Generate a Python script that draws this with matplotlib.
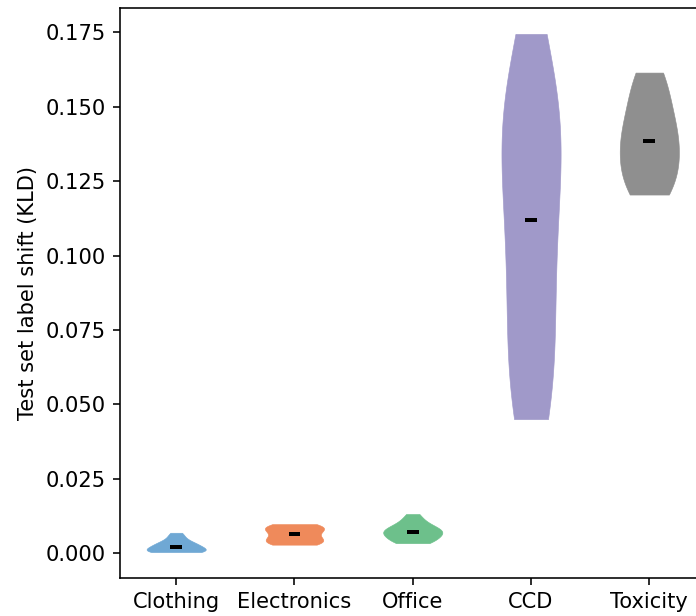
import numpy as np
import matplotlib
matplotlib.use('Agg')
import matplotlib.pyplot as plt

# label shift (KLD) per test split
datasets = ['Clothing', 'Electronics', 'Office', 'CCD', 'Toxicity']
clothing = [0.0003, 0.0003, 0.0004, 0.0005, 0.0006, 0.0008, 0.0010, 0.0013,
            0.0016, 0.0020, 0.0023, 0.0026, 0.0029, 0.0032, 0.0036, 0.0041,
            0.0049, 0.0059, 0.0068]
electronics = [0.0028, 0.0031, 0.0036, 0.0041, 0.0046, 0.0053, 0.0063,
               0.0073, 0.0079, 0.0084, 0.0088, 0.0093, 0.0097]
office = [0.0033, 0.0035, 0.0040, 0.0046, 0.0053, 0.0058, 0.0063, 0.0067,
          0.0071, 0.0074, 0.0078, 0.0082, 0.0087, 0.0094, 0.0103, 0.0115,
          0.0131]
ccd = [0.045, 0.047, 0.054, 0.062, 0.071, 0.080, 0.089, 0.097, 0.105,
       0.112, 0.122, 0.130, 0.136, 0.140, 0.144, 0.149, 0.156, 0.165, 0.1745]
toxicity = [0.1205, 0.122, 0.125, 0.129, 0.132, 0.135, 0.1385, 0.141,
            0.144, 0.148, 0.153, 0.158, 0.1615]
colors = ['#6fa8d4', '#ef8a5b', '#6dc08b', '#a099c9', '#8f8f8f']

samples = [clothing, electronics, office, ccd, toxicity]
positions = np.arange(1, len(datasets) + 1)

plt.rcParams['font.size'] = 10.5

fig = plt.figure(figsize=(696 / 144, 616 / 144), dpi=144)
ax = fig.add_axes([120 / 696, 38 / 616, 585.5 / 696, 570 / 616])

parts = ax.violinplot(samples, positions=positions, showextrema=False)
for body, c in zip(parts['bodies'], colors):
    body.set_facecolor(c)
    body.set_edgecolor(c)
    body.set_linewidth(0.3)
    body.set_alpha(1)

medians = [np.median(s) for s in samples]
ax.hlines(medians, positions - 0.05, positions + 0.05, color='black', linewidth=2)

ax.set_xticks(positions)
ax.set_xticklabels(datasets)
ax.set_ylabel('Test set label shift (KLD)')

fig.savefig('out.png', dpi=144)
